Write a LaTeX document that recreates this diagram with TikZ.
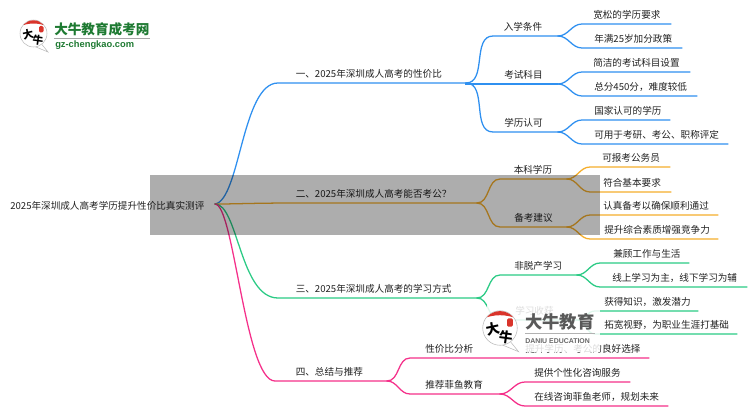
\documentclass[tikz,border=0pt]{standalone}
\usepackage{fontspec}
\setmainfont{Noto Sans CJK SC}
\setsansfont{Liberation Sans}
\definecolor{txtc}{HTML}{222222}
\definecolor{blueb}{HTML}{2F90F0}
\definecolor{orangeb}{HTML}{F5AE2C}
\definecolor{greenb}{HTML}{2BCB85}
\definecolor{pinkb}{HTML}{F5308A}
\definecolor{logog}{HTML}{1E7A32}
\definecolor{capred}{HTML}{D9342B}
\tikzset{
    lab/.style={anchor=west,inner sep=0pt,text=txtc,font=\fontsize{7.2}{9}\selectfont},
    branch/.style={line width=.95pt,line cap=round},
    badge/.pic={
        \draw[gray!55,fill=white,line width=.4pt] (8,10.5)--(14.5,18.5)--(2,13.3);
        \draw[gray!55,fill=white,line width=.4pt] (0,0) circle (13.5);
        \begin{scope}
            \clip (0,0) circle (13.2);
            \fill[capred] (-14,-7) .. controls (-5,-11) and (5,-11) .. (14,-7) -- (14,-14) -- (-14,-14) -- cycle;
        \end{scope}
        \fill[capred,rounded corners=1pt] (5.5,-7.5) rectangle (10,-1);
        \node[inner sep=0pt,rotate=12,text=black,font=\fontsize{8}{8}\bfseries\selectfont] (da) at (-5.5,0.5) {大};
        \node[inner sep=0pt,rotate=-8,text=black,font=\fontsize{8}{8}\bfseries\selectfont] (niu) at (4.5,7) {牛};
    }
}
\begin{document}
\begin{tikzpicture}[x=.75pt,y=-.75pt]
\useasboundingbox (0,0) rectangle (750,410);
\fill[white] (0,0) rectangle (750,410);

\node[lab] (root) at (10,206) {2025年深圳成人高考学历提升性价比真实测评};
\coordinate (hub) at (215,204);

\foreach \nm/\col/\cax/\cay/\cbx/\cby/\xa/\xb/\yy/\txt in {
    one/blueb/240/200/242/83/278/466/83/{一、2025年深圳成人高考的性价比},
    two/orangeb/240/204/250/203/300/477/203/{二、2025年深圳成人高考能否考公？},
    three/greenb/238/204/240/298/278/477/298/{三、2025年深圳成人高考的学习方式},
    four/pinkb/234/204/245/381/275/387/381/{四、总结与推荐}}
{
    \coordinate (\nm-s) at (\xa,\yy);
    \coordinate (\nm-e) at (\xb,\yy);
    \node[lab] (\nm) at (295.5,\yy-9) {\txt};
    \draw[branch,draw=\col] (hub) .. controls (\cax,\cay) and (\cbx,\cby) .. (\nm-s) -- (\nm-e);
}

\foreach \nm/\from/\col/\xa/\xb/\yy/\xt/\txt in {
    ruxue/one/blueb/493/558/36/503.5/入学条件,
    kaoshi/one/blueb/466/558/84/504/考试科目,
    xueli/one/blueb/493/558/132/504/学历认可,
    benke/two/orangeb/500/567/179/513.5/本科学历,
    beikao/two/orangeb/500/567/227/514/备考建议,
    feituo/three/greenb/500/577/275/514/非脱产学习,
    shouhuo/three/greenb/500/577/320/515/学习收获,
    xingjia/four/pinkb/410/649/358/425/性价比分析,
    tuijian/four/pinkb/410/500/394/425/推荐菲鱼教育}
{
    \coordinate (\nm-s) at (\xa,\yy);
    \coordinate (\nm-e) at (\xb,\yy);
    \node[lab] (\nm) at (\xt,\yy-9) {\txt};
    \draw[branch,draw=\col] (\from-e) to[out=0,in=180] (\nm-s) -- (\nm-e);
}

\foreach \nm/\from/\col/\xa/\xb/\yy/\xt/\txt in {
    kuan/ruxue/blueb/582/671/24/593/宽松的学历要求,
    nian/ruxue/blueb/582/682/48/594/年满25岁加分政策,
    jian/kaoshi/blueb/582/690/72/593/简洁的考试科目设置,
    zong/kaoshi/blueb/582/697/96/594/{总分450分，难度较低},
    guo/xueli/blueb/582/670/120/594/国家认可的学历,
    ke/xueli/blueb/582/728/144/594/{可用于考研、考公、职称评定},
    bao/benke/orangeb/590/670/167/602/可报考公务员,
    fu/benke/orangeb/590/671/192/603/符合基本要求,
    ren/beikao/orangeb/590/718/215/603/认真备考以确保顺利通过,
    ti/beikao/orangeb/590/718/239/604/提升综合素质增强竞争力,
    jiangu/feituo/greenb/600/689/263/613/兼顾工作与生活,
    xian/feituo/greenb/600/747/287/612/{线上学习为主，线下学习为辅},
    huo/shouhuo/greenb/595/698/311/604/{获得知识，激发潜力},
    tuo/shouhuo/greenb/595/737/334/604/{拓宽视野，为职业生涯打基础},
    tigong/tuijian/pinkb/525/630/382/534/提供个性化咨询服务,
    zaixian/tuijian/pinkb/525/668/406/534/{在线咨询菲鱼老师，规划未来}}
{
    \coordinate (\nm-s) at (\xa,\yy);
    \coordinate (\nm-e) at (\xb,\yy);
    \node[lab] (\nm) at (\xt,\yy-9) {\txt};
    \draw[branch,draw=\col] (\from-e) to[out=0,in=180] (\nm-s) -- (\nm-e);
}
\node[lab] (tisheng) at (525,349) {提升学历、考公的良好选择};

% grey band and watermark lie over the map
\fill[black,opacity=.32] (150,175) rectangle (600,235);
\fill[white,opacity=.85] (487,304) rectangle (600,352);

\pic (top) at (33.5,33.5) {badge};
\node[inner sep=0pt,anchor=west,text=logog,font=\fontsize{10.2}{12}\bfseries\selectfont] (cheng) at (54,29) {大牛教育成考网};
\draw[gray!70,line width=1pt] (54,38.5) -- (150,38.5);
\node[inner sep=0pt,anchor=west,text=logog,font=\fontsize{7}{8}\sffamily\bfseries\selectfont] (gz) at (55,45.5) {gz-chengkao.com};

\pic (mark) at (500,328) [scale=1.28,transform shape] {badge};
\node[inner sep=0pt,anchor=west,text=black!65,font=\fontsize{13}{15}\bfseries\selectfont] (jiaoyu) at (525,322) {大牛教育};
\draw[gray!60,line width=.5pt] (525,333.5) -- (595,333.5);
\node[inner sep=0pt,anchor=west,text=black!60,font=\fontsize{5.2}{6}\sffamily\bfseries\selectfont] (danu) at (525,341) {DANIU EDUCATION};
\end{tikzpicture}
\end{document}
